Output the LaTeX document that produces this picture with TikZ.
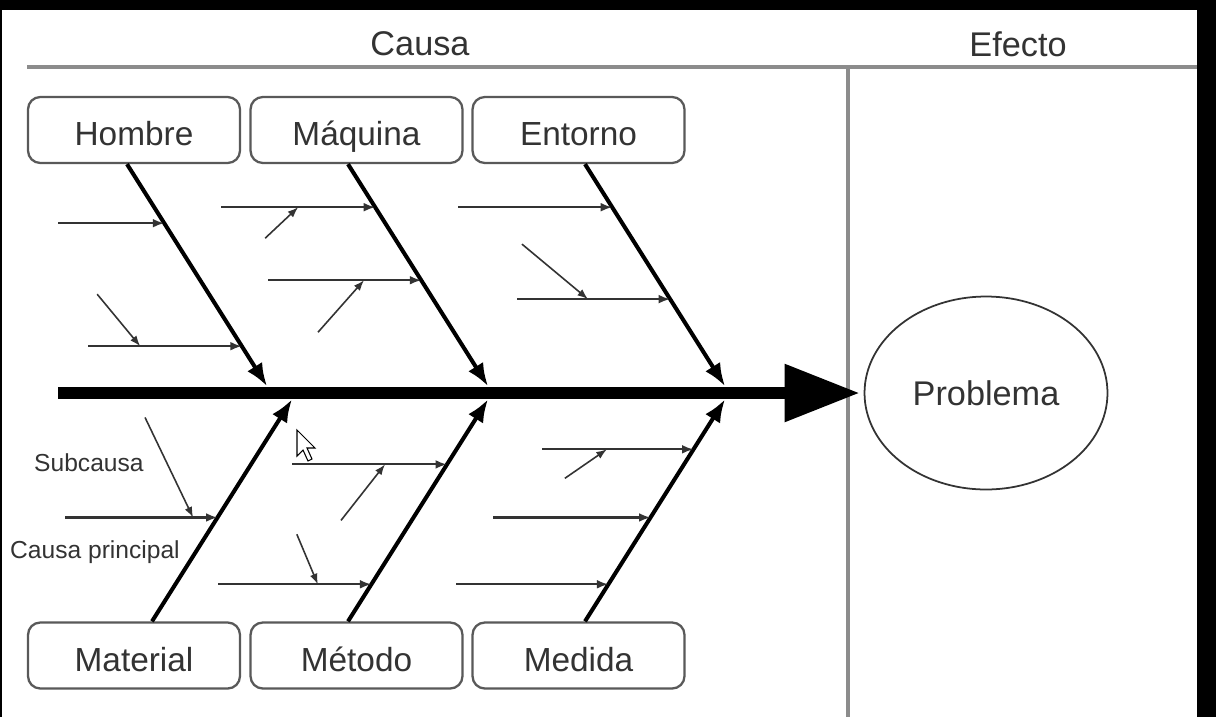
\documentclass[tikz,border=0pt]{standalone}
\usepackage{fontspec}
\setmainfont{Liberation Sans}
\usetikzlibrary{arrows.meta,calc,shapes.geometric}

\definecolor{rulegray}{gray}{0.55}
\definecolor{boxgray}{gray}{0.35}
\definecolor{subgray}{gray}{0.2}
\definecolor{textgray}{gray}{0.2}

\tikzset{
  cause/.style={draw=boxgray,line width=1.3pt,rounded corners=7pt,minimum width=4.24cm,minimum height=1.32cm,
    text height=20pt,text depth=2pt,text=textgray,font=\fontsize{19}{22}\selectfont},
  bone/.style={line width=2.3pt,-{Latex[length=13pt,width=10pt]}},
  sub/.style={color=subgray,line width=1.2pt,{Latex[length=6.5pt,width=5pt]}-},
  subsub/.style={color=subgray,line width=0.9pt,{Latex[length=6pt,width=4.5pt]}-},
  note/.style={text=textgray,anchor=west,font=\fontsize{14}{16}\selectfont},
  head/.style={text=textgray,font=\fontsize{19.5}{22}\selectfont}
}

\begin{document}
\begin{tikzpicture}[x=0.02cm,y=-0.02cm]
  \useasboundingbox (0,0) rectangle (1216,717);
  \fill[black] (0,0) rectangle (1216,717);
  \fill[white] (2,10) rectangle (1197,717);

  % header and column rule
  \draw[rulegray,line width=2pt] (27,67) -- (1197,67);
  \draw[rulegray,line width=2pt] (848,67) -- (848,717);
  \node[head] (causa) at (420,44) {Causa};
  \node[head] (efecto) at (1018,44) {Efecto};

  % effect and spine
  \node[draw=subgray,line width=1pt,ellipse,inner sep=0pt,minimum width=4.86cm,minimum height=3.86cm,
    text=textgray,font=\fontsize{19.5}{22}\selectfont] (problema) at (986,393) {Problema};
  \coordinate (cola) at (58,393);
  \draw[line width=6.8pt,-{Triangle[length=1.5cm,width=1.1cm]}] (cola) -- ([xshift=-0.08cm]problema.west);

  % main causes
  \node[cause] (hombre) at (134,130) {Hombre};
  \node[cause] (maquina) at (356.5,130) {Máquina};
  \node[cause] (entorno) at (578.5,130) {Entorno};
  \node[cause] (material) at (134,655.5) {Material};
  \node[cause] (metodo) at (356.5,655.5) {Método};
  \node[cause] (medida) at (578.5,655.5) {Medida};

  \draw[bone] ([xshift=-0.14cm]hombre.south) coordinate (h0) -- ++(140,222) coordinate (h1);
  \draw[bone] ([xshift=-0.17cm]maquina.south) coordinate (m0) -- ++(140,222) coordinate (m1);
  \draw[bone] ([xshift=0.13cm]entorno.south) coordinate (e0) -- ++(140,222) coordinate (e1);
  \draw[bone] ([xshift=0.36cm]material.north) coordinate (a0) -- ++(140,-222) coordinate (a1);
  \draw[bone] ([xshift=-0.17cm]metodo.north) coordinate (t0) -- ++(140,-222) coordinate (t1);
  \draw[bone] ([xshift=0.13cm]medida.north) coordinate (d0) -- ++(140,-222) coordinate (d1);

  % sub causes
  \draw[sub] ($(h0)!.266!(h1)$) -- ++(-106,0);
  \draw[sub] ($(h0)!.820!(h1)$) -- ++(-154,0) coordinate[pos=.66] (hb);
  \draw[subsub] (hb) -- ++(-43,-52);

  \draw[sub] ($(m0)!.194!(m1)$) -- ++(-154,0) coordinate[pos=.50] (ma);
  \draw[subsub] (ma) -- ++(-33,31);
  \draw[sub] ($(m0)!.523!(m1)$) -- ++(-153,0) coordinate[pos=.374] (mb);
  \draw[subsub] (mb) -- ++(-46,52);

  \draw[sub] ($(e0)!.194!(e1)$) -- ++(-154,0);
  \draw[sub] ($(e0)!.608!(e1)$) -- ++(-153,0) coordinate[pos=.537] (eb);
  \draw[subsub] (eb) -- ++(-66,-55);

  \draw[sub] ($(a0)!.468!(a1)$) -- ++(-153,0) coordinate[pos=.16] (aa);
  \draw[subsub] (aa) -- ++(-48,-100);

  \draw[sub] ($(t0)!.707!(t1)$) -- ++(-155,0) coordinate[pos=.40] (ta);
  \draw[subsub] (ta) -- ++(-44,56);
  \draw[sub] ($(t0)!.167!(t1)$) -- ++(-153,0) coordinate[pos=.35] (tb);
  \draw[subsub] (tb) -- ++(-21,-50);

  \draw[sub] ($(d0)!.775!(d1)$) -- ++(-152,0) coordinate[pos=.57] (da);
  \draw[subsub] (da) -- ++(-42,29);
  \draw[sub] ($(d0)!.468!(d1)$) -- ++(-158,0);
  \draw[sub] ($(d0)!.167!(d1)$) -- ++(-152,0);

  \node[note] (subcausa) at (28,463) {Subcausa};
  \node[note] (principal) at (4,552) {Causa principal};

  % mouse pointer
  \draw[black,fill=white,line width=0.6pt] (297,430) -- (297,456) -- (303,450) -- (308,461)
    -- (312,459) -- (307,448) -- (315,448) -- cycle;
\end{tikzpicture}
\end{document}
